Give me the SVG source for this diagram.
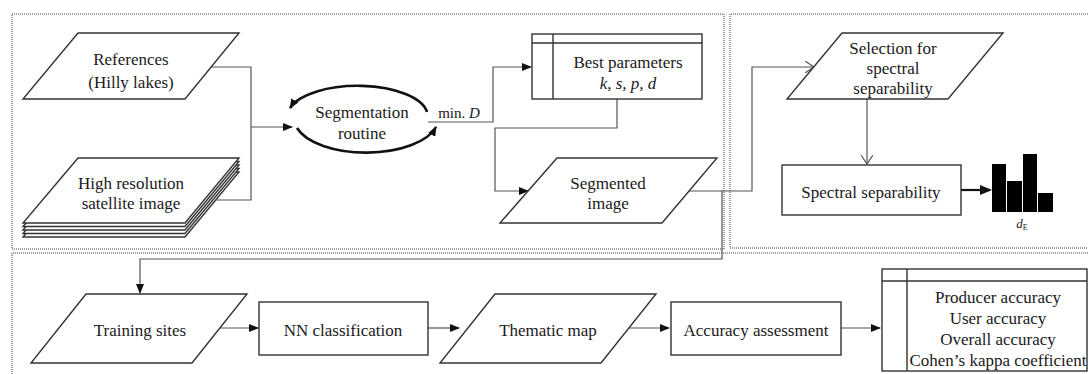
<svg xmlns="http://www.w3.org/2000/svg" width="1088" height="374" viewBox="0 0 1088 374">
<defs>
<style>
.frame{fill:none;stroke:#a0a0a0;stroke-width:2.2;stroke-dasharray:1 1}
.node{fill:#fff;stroke:#333;stroke-width:1.4}
.con{fill:none;stroke:#555;stroke-width:1.2}
.loop{fill:none;stroke:#111;stroke-width:2.6}
text{font-family:"Liberation Serif","Times New Roman",serif;font-size:17px;fill:#1a1a1a;text-anchor:middle}
.it{font-style:italic}
</style>
<marker id="arr" markerUnits="userSpaceOnUse" markerWidth="10" markerHeight="8" refX="9" refY="4" orient="auto">
<path d="M0,0 L10,4 L0,8 z" fill="#111"/>
</marker>
<marker id="arrL" markerUnits="userSpaceOnUse" markerWidth="12" markerHeight="10" refX="10" refY="5" orient="auto">
<path d="M0,0 L12,5 L0,10 z" fill="#111"/>
</marker>
<marker id="open" markerUnits="userSpaceOnUse" markerWidth="10" markerHeight="12" refX="9" refY="6" orient="auto">
<path d="M0,0 L9,6 L0,12" fill="none" stroke="#555" stroke-width="1.2"/>
</marker>
</defs>
<rect width="1088" height="374" fill="#fff"/>
<g id="frames">
<rect class="frame" x="12" y="14" width="712" height="235"/>
<path class="frame" d="M1092 14 H730 V248 H1092"/>
<path class="frame" d="M1092 253 H12 V378"/>
</g>
<g id="connectors">
<path class="con" d="M208 67 H251 V200 H200"/>
<path class="con" d="M251 127 H292" marker-end="url(#arr)"/>
<path class="con" d="M428 122 H493 V67 H531" marker-end="url(#arr)"/>
<path class="con" d="M617 99 V128 H495 V191 H528" marker-end="url(#arr)"/>
<path class="con" d="M685 191 H752 V67 H814" marker-end="url(#open)"/>
<path class="con" d="M722 191 V259 H140 V293" marker-end="url(#arr)"/>
<path class="con" d="M867 99 V164" marker-end="url(#open)"/>
<path d="M961 190 H990" fill="none" stroke="#111" stroke-width="2.2" marker-end="url(#arrL)"/>
<path class="con" d="M215 328 H258" marker-end="url(#arr)"/>
<path class="con" d="M428 328 H459" marker-end="url(#arr)"/>
<path class="con" d="M628 328 H669" marker-end="url(#arr)"/>
<path class="con" d="M841 328 H880" marker-end="url(#arr)"/>
</g>
<g id="references">
<polygon class="node" points="78,33 239,33 185,99 23,99"/>
<text x="131" y="65">References</text>
<text x="131" y="88">(Hilly lakes)</text>
</g>
<g id="satellite">
<polygon class="node" points="78,172 239,172 185,237 23,237"/>
<polygon class="node" points="78,168.5 239,168.5 185,233.5 23,233.5"/>
<polygon class="node" points="78,165 239,165 185,230 23,230"/>
<polygon class="node" points="78,161.5 239,161.5 185,226.5 23,226.5"/>
<polygon class="node" points="78,158 239,158 185,223 23,223"/>
<text x="131" y="189">High resolution</text>
<text x="131" y="209">satellite image</text>
</g>
<g id="segmentation">
<path class="loop" d="M427 112 A70 30 0 0 0 290 108" marker-end="url(#arr)"/>
<path class="loop" d="M297 128 A72 34 0 0 0 436 127" marker-end="url(#arr)"/>
<text x="362" y="118">Segmentation</text>
<text x="362" y="139">routine</text>
<text x="459" y="118" style="font-size:15px">min. <tspan class="it">D</tspan></text>
</g>
<g id="best">
<rect class="node" x="532" y="34" width="170" height="65"/>
<path d="M532 43 H702 M553 34 V99" stroke="#333" stroke-width="1.4"/>
<text x="628" y="68">Best parameters</text>
<text x="628" y="89" class="it">k, s, p, d</text>
</g>
<g id="segmented">
<polygon class="node" points="557,158 717,158 662,223 500,223"/>
<text x="608" y="189">Segmented</text>
<text x="608" y="209">image</text>
</g>
<g id="selection">
<polygon class="node" points="842,33 1003,33 948,99 787,99"/>
<text x="893" y="54">Selection for</text>
<text x="893" y="74">spectral</text>
<text x="893" y="94">separability</text>
</g>
<g id="spectral">
<rect class="node" x="782" y="165" width="179" height="50"/>
<text x="871" y="198">Spectral separability</text>
</g>
<g id="bars">
<rect x="992" y="164" width="14" height="48" fill="#000"/>
<rect x="1007" y="181" width="15" height="31" fill="#000"/>
<rect x="1023" y="154" width="14" height="58" fill="#000"/>
<rect x="1038" y="193" width="15" height="19" fill="#000"/>
<text x="1022" y="228" style="font-size:13px"><tspan class="it">d</tspan><tspan style="font-size:8px" dy="2">E</tspan></text>
</g>
<g id="training">
<polygon class="node" points="86,294 247,294 192,363 31,363"/>
<text x="140" y="336">Training sites</text>
</g>
<g id="nn">
<rect class="node" x="259" y="302" width="169" height="53"/>
<text x="343" y="336">NN classification</text>
</g>
<g id="thematic">
<polygon class="node" points="495,294 656,294 601,363 440,363"/>
<text x="548" y="336">Thematic map</text>
</g>
<g id="accuracy">
<rect class="node" x="671" y="302" width="170" height="53"/>
<text x="756" y="336">Accuracy assessment</text>
</g>
<g id="results">
<rect class="node" x="882" y="269" width="205" height="102"/>
<path d="M882 281 H1087 M907 269 V371" stroke="#333" stroke-width="1.4"/>
<text x="998" y="303">Producer accuracy</text>
<text x="998" y="324">User accuracy</text>
<text x="998" y="345">Overall accuracy</text>
<text x="998" y="366">Cohen’s kappa coefficient</text>
</g>
</svg>
